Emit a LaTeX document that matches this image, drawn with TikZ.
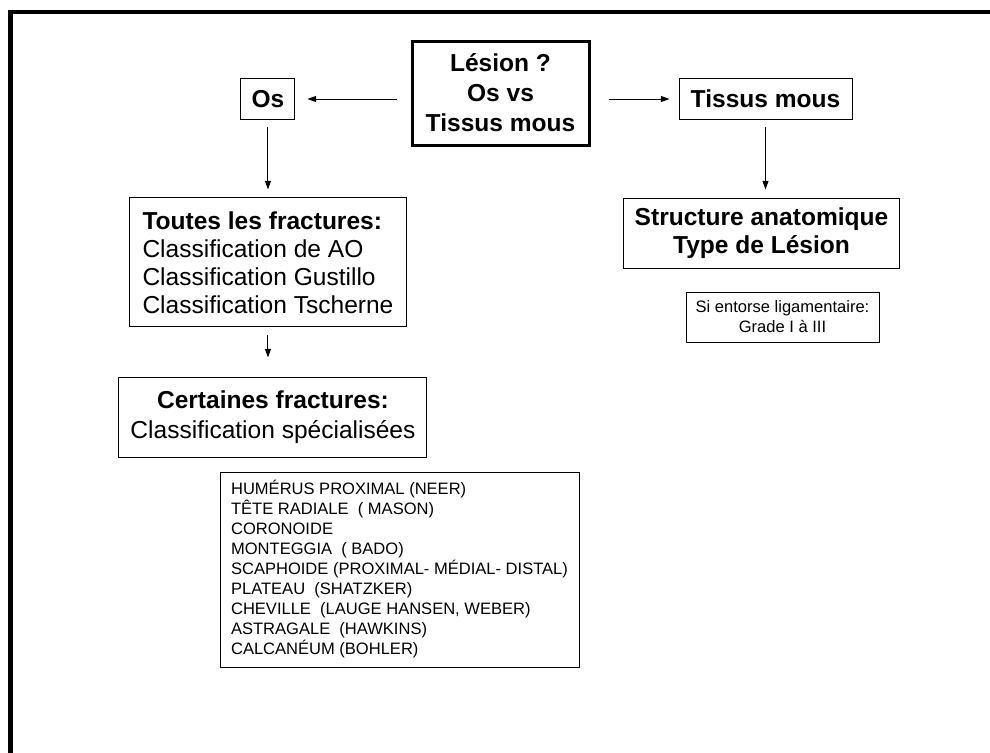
\documentclass[tikz,border=0pt]{standalone}
\usepackage{fontspec}
\setmainfont{Liberation Sans}
\usetikzlibrary{positioning,arrows.meta}

\begin{document}
\begin{tikzpicture}[x=0.75pt,y=0.75pt,on grid,
		boite/.style={draw,line width=0.75pt,inner sep=0pt,align=center,font=\fontsize{18.4}{21.5}\selectfont\bfseries},
		petite/.style={draw,line width=0.75pt,inner sep=0pt,font=\fontsize{12.4}{15}\selectfont},
		fleche/.style={-{Triangle[length=6.5pt,width=4.5pt]},line width=0.75pt}]
			\clip (0,0) rectangle (990,-753);
			\draw[line width=3.2pt] (10.5,-770) -- (10.5,-12) -- (1010,-12);
			\node[boite,line width=2.25pt,minimum width=132.75pt,minimum height=78pt,font=\fontsize{18.4}{22.5}\selectfont\bfseries] (lesion) at (500.5,-93) {Lésion ?\\Os vs\\Tissus mous};
			\node[boite,minimum width=40.5pt,minimum height=30.75pt] (os) [below left=4.5pt and 174.4pt of lesion] {Os};
			\node[boite,minimum width=129.75pt,minimum height=30.75pt] (tissus) [below right=4.5pt and 198.75pt of lesion] {Tissus mous};
			\node[boite,minimum width=207.75pt,minimum height=96.75pt,align=left,font=\fontsize{18.4}{21}\selectfont] (toutes) [below=122.6pt of os] {\textbf{Toutes les fractures:}\\Classification de AO\\Classification Gustillo\\Classification Tscherne};
			\node[boite,minimum width=231pt,minimum height=60pt,font=\fontsize{18.4}{22.5}\selectfont] (certaines) [below right=115.9pt and 3.75pt of toutes] {\textbf{Certaines fractures:}\\Classification spécialisées};
			\node[petite,minimum width=269.25pt,minimum height=146.25pt,align=left] (liste) [below right=114.4pt and 94.9pt of certaines] {HUMÉRUS PROXIMAL (NEER)\\TÊTE RADIALE \ ( MASON)\\CORONOIDE\\MONTEGGIA \ ( BADO)\\SCAPHOIDE (PROXIMAL- MÉDIAL- DISTAL)\\PLATEAU \ (SHATZKER)\\CHEVILLE \ (LAUGE HANSEN, WEBER)\\ASTRAGALE \ (HAWKINS)\\CALCANÉUM (BOHLER)};
			\node[boite,minimum width=207pt,minimum height=52.5pt,font=\fontsize{18.4}{21}\selectfont\bfseries] (structure) [below left=100.5pt and 3pt of tissus] {Structure anatomique\\Type de Lésion};
			\node[petite,minimum width=144.75pt,minimum height=37.5pt,align=center] (entorse) [below right=63pt and 15.75pt of structure] {Si entorse ligamentaire:\\Grade I à III};
			\path[fleche]
			(lesion.west |- os) edge[shorten <=10.5pt,shorten >=9pt] (os)
			(lesion.east |- tissus) edge[shorten <=13.5pt,shorten >=6.75pt] (tissus)
			(os) edge[shorten <=5.6pt,shorten >=6pt] (toutes)
			(tissus) edge[shorten <=5.6pt,shorten >=6pt] (tissus |- structure.north)
			(toutes) edge[shorten <=6pt,shorten >=14.25pt] (toutes |- certaines.north);
		\end{tikzpicture}
\end{document}
